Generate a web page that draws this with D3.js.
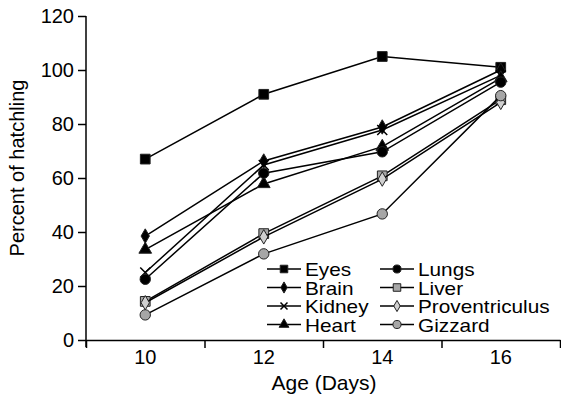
<!DOCTYPE html>
<html>
<head>
<meta charset="utf-8">
<script src="https://cdn.jsdelivr.net/npm/d3@7"></script>
<style>
  html, body { margin: 0; padding: 0; background: #fff; }
  svg { display: block; font-family: "Liberation Sans", Arial, sans-serif; }
  .axis path, .axis line { stroke: #000; stroke-width: 1.5; }
  .axis text { font-size: 20px; fill: #000; }
</style>
</head>
<body>
<svg id="chart" width="561" height="398"></svg>
<script>
'use strict';

// data
var ages = [10, 12, 14, 16];
var seriesNames = ['Eyes', 'Brain', 'Kidney', 'Heart', 'Lungs', 'Liver', 'Proventriculus', 'Gizzard'];
var eyes = [67, 91, 105, 101];
var brain = [38.5, 66.3, 78.9, 100];
var kidney = [25, 64.8, 77.8, 98];
var heart = [33.5, 57.8, 71.6, 97];
var lungs = [22.5, 61.8, 69.7, 95.5];
var liver = [14.3, 39.4, 60.8, 89];
var proventriculus = [13.8, 38.2, 59.6, 88];
var gizzard = [9.3, 31.9, 46.7, 90.5];
var yTicks = [0, 20, 40, 60, 80, 100, 120];
var xTickBounds = [9, 11, 13, 15, 17];

var values = [eyes, brain, kidney, heart, lungs, liver, proventriculus, gizzard];
var markers = [
  {shape: d3.symbolSquare, size: 95, fill: '#000'},
  {shape: d3.symbolDiamond, size: 60, fill: '#000'},
  {shape: 'cross', size: 5, fill: 'none'},
  {shape: d3.symbolTriangle, size: 70, fill: '#000'},
  {shape: d3.symbolCircle, size: 85, fill: '#000'},
  {shape: d3.symbolSquare, size: 95, fill: '#a6a6a6'},
  {shape: d3.symbolDiamond, size: 60, fill: '#d0d0d0'},
  {shape: d3.symbolCircle, size: 85, fill: '#a6a6a6'}
];

var svg = d3.select('#chart');

var xScale = d3.scaleLinear().domain([9, 17]).range([86, 560]);
var yScale = d3.scaleLinear().domain([0, 120]).range([340, 16]);

// y axis
var yAxis = svg.append('g')
  .attr('class', 'axis')
  .attr('transform', 'translate(86,0)')
  .call(d3.axisLeft(yScale).tickValues(yTicks).tickSize(8).tickPadding(4).tickSizeOuter(0));
yAxis.select('.domain').attr('d', 'M0,16V347');

// x axis
svg.append('g')
  .attr('class', 'axis')
  .attr('transform', 'translate(0,340)')
  .call(d3.axisBottom(xScale).tickValues(xTickBounds).tickSize(8).tickFormat('').tickSizeOuter(0));

svg.append('g')
  .attr('class', 'axis')
  .selectAll('text')
  .data(ages)
  .enter()
  .append('text')
  .attr('x', function(d) { return xScale(d); })
  .attr('y', 364)
  .attr('text-anchor', 'middle')
  .text(function(d) { return d; });

// axis titles
svg.append('text')
  .attr('x', 324)
  .attr('y', 390)
  .attr('text-anchor', 'middle')
  .style('font-size', '21px')
  .text('Age (Days)');

svg.append('text')
  .attr('transform', 'translate(24,168) rotate(-90)')
  .attr('text-anchor', 'middle')
  .style('font-size', '20px')
  .text('Percent of hatchling');

var drawMarker = function(g, m, x, y) {
  if (m.shape === 'cross') {
    g.append('path')
      .attr('d', 'M' + (x - m.size) + ',' + (y - m.size) + 'L' + (x + m.size) + ',' + (y + m.size) +
        'M' + (x - m.size) + ',' + (y + m.size) + 'L' + (x + m.size) + ',' + (y - m.size))
      .attr('stroke', '#000')
      .attr('stroke-width', 1.5)
      .attr('fill', 'none');
  } else {
    g.append('path')
      .attr('d', d3.symbol().type(m.shape).size(m.size)())
      .attr('transform', 'translate(' + x + ',' + y + ')')
      .attr('fill', m.fill)
      .attr('stroke', '#222')
      .attr('stroke-width', 1);
  }
};

var line = d3.line()
  .x(function(d, i) { return xScale(ages[i]); })
  .y(function(d) { return yScale(d); });

// series
values.forEach(function(vals, si) {
  var g = svg.append('g');
  g.append('path')
    .datum(vals)
    .attr('d', line)
    .attr('fill', 'none')
    .attr('stroke', '#000')
    .attr('stroke-width', 1.5);
  vals.forEach(function(v, i) {
    drawMarker(g, markers[si], xScale(ages[i]), yScale(v));
  });
});

// legend (text slightly widened, as in the original)
var legend = svg.append('g');
seriesNames.forEach(function(name, i) {
  var col = Math.floor(i / 4),
    row = i % 4,
    lx = col === 0 ? 267 : 380,
    ly = 269 + row * 18.5;
  var g = legend.append('g');
  g.append('line')
    .attr('x1', lx).attr('x2', lx + 34)
    .attr('y1', ly).attr('y2', ly)
    .attr('stroke', '#000').attr('stroke-width', 1.5);
  var m = Object.assign({}, markers[i]);
  if (m.shape === 'cross') { m.size = 3.5; } else { m.size = m.size * 0.6; }
  drawMarker(g, m, lx + 17, ly);
  g.append('text')
    .attr('transform', 'translate(' + (lx + 38) + ',' + (ly + 7) + ') scale(1.13,1)')
    .style('font-size', '18.4px')
    .text(name);
});
</script>
</body>
</html>
